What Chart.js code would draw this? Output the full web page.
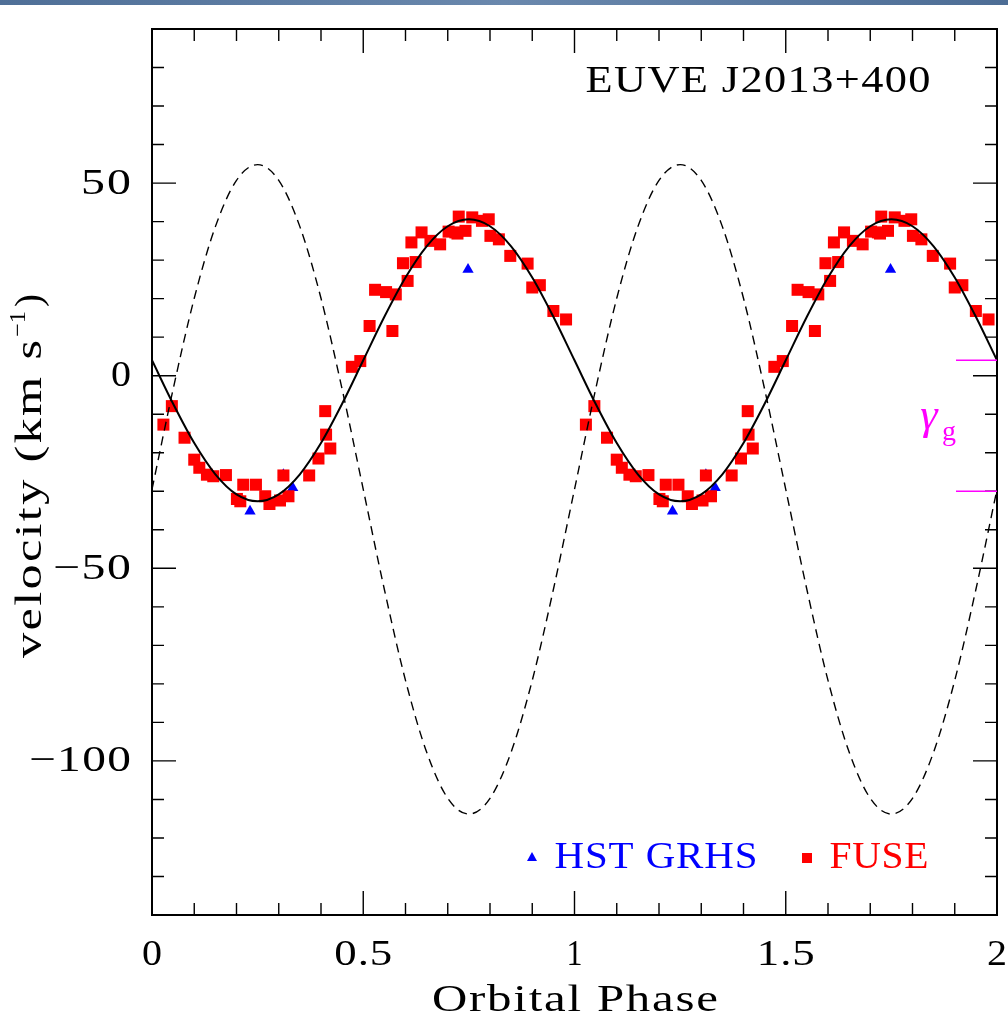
<!DOCTYPE html>
<html>
<head>
<meta charset="utf-8">
<script src="https://cdn.jsdelivr.net/npm/chart.js@4"></script>
<style>
  body { margin: 0; background: #fff; }
  #wrap { width: 1008px; height: 1021px; }
</style>
</head>
<body>
<div id="wrap"><canvas id="rvChart" width="1008" height="1021"></canvas></div>
<script>
// FUSE radial velocities (one orbital cycle, plotted twice)
const fusePhase = [0.027, 0.047, 0.077, 0.100, 0.112, 0.130, 0.145, 0.175, 0.201, 0.209, 0.216, 0.246, 0.268, 0.278,
                   0.303, 0.311, 0.323, 0.372, 0.394, 0.410, 0.412, 0.422, 0.473, 0.493, 0.515, 0.528, 0.554, 0.569,
                   0.577, 0.594, 0.605, 0.614, 0.624, 0.638, 0.659, 0.682, 0.702, 0.718, 0.723, 0.726, 0.742, 0.758,
                   0.781, 0.797, 0.801, 0.821, 0.848, 0.889, 0.900, 0.918, 0.950, 0.980];
const fuseVel = [-12.7, -7.9, -16.1, -21.8, -23.9, -25.7, -26.1, -25.8, -32.0, -32.6, -28.3, -28.3, -31.3, -33.3,
                 -32.4, -25.9, -31.3, -25.9, -21.5, -9.2, -15.3, -18.9, 2.3, 3.8, 12.9, 22.3, 21.7, 11.6,
                 21.1, 29.2, 24.6, 34.6, 29.5, 37.2, 35.0, 34.1, 37.4, 37.2, 36.9, 41.3, 37.6, 41.1,
                 40.2, 40.6, 36.3, 35.4, 31.1, 29.1, 22.9, 23.5, 16.8, 14.6];

// HST GHRS radial velocities
const hstPhase = [0.232, 0.311, 0.333, 0.748];
const hstVel = [-35.2, -25.7, -29.1, 27.6];

// model curves (solid = white dwarf fit, dashed = companion)
const modelPhase = [0, 0.05, 0.10, 0.15, 0.20, 0.25, 0.30, 0.35, 0.40, 0.45, 0.50,
                    0.55, 0.60, 0.65, 0.70, 0.75, 0.80, 0.85, 0.90, 0.95, 1.00];
const solidVel = [4.0, -7.3, -17.5, -25.6, -30.8, -32.6, -30.8, -25.6, -17.5, -7.3, 4.0,
                  15.3, 25.5, 33.6, 38.8, 40.6, 38.8, 33.6, 25.5, 15.3, 4.0];
const dashedVel = [-29.5, -3.5, 20.1, 38.7, 50.7, 54.8, 50.7, 38.7, 20.1, -3.5, -29.5,
                   -55.5, -79.1, -97.7, -109.7, -113.8, -109.7, -97.7, -79.1, -55.5, -29.5];

// systemic velocities marked on the right edge
const gammaLevels = [4, -30];

// axis ticks
const xLabels = ['0', '0.5', '1', '1.5', '2'];
const xMajor = [0, 0.5, 1, 1.5, 2];
const yLabels = ['\u2212100', '\u221250', '0', '50'];
const yMajor = [-100, -50, 0, 50];

const cycles = [0, 1];
const fusePoints = cycles.flatMap(c => fusePhase.map((p, i) => ({ x: p + c, y: fuseVel[i] })));
const hstPoints = cycles.flatMap(c => hstPhase.map((p, i) => ({ x: p + c, y: hstVel[i] })));
function modelPoints(vals) {
    const pts = [];
    cycles.forEach(c => modelPhase.forEach((p, i) => {
        if (c > 0 && i === 0) return;
        pts.push({ x: p + c, y: vals[i] });
    }));
    return pts;
}

// draw text stretched to a given width (the original uses a wide Hershey font)
function drawText(ctx, str, x, y, size, width, opts) {
    opts = opts || {};
    ctx.save();
    ctx.font = (opts.style ? opts.style + ' ' : '') + size + 'px ' + (opts.family || '"Liberation Serif"');
    ctx.fillStyle = opts.color || '#000';
    ctx.textBaseline = opts.baseline || 'middle';
    ctx.textAlign = 'left';
    const w = ctx.measureText(str).width;
    let sx = 1, sp = 0;
    if (width) {
        // part of the extra width goes to letter spacing, the rest to stretching
        const share = opts.spread || 0;
        sp = str.length > 1 ? (width - w) * share / (str.length - 1) : 0;
        sx = (width - sp * (str.length - 1)) / w;
    }
    const total = width || w;
    let x0 = x;
    if ((opts.align || 'center') === 'center') x0 = x - total / 2;
    else if (opts.align === 'right') x0 = x - total;
    ctx.translate(x0, y);
    ctx.scale(sx, 1);
    if (sp) {
        let cx = 0;
        for (const ch of str) {
            ctx.fillText(ch, cx, 0);
            cx += ctx.measureText(ch).width + sp / sx;
        }
    } else {
        ctx.fillText(str, 0, 0);
    }
    ctx.restore();
}

const framePlugin = {
    id: 'frame',
    beforeDraw(chart) {
        const ctx = chart.ctx;
        ctx.save();
        ctx.fillStyle = '#fff';
        ctx.fillRect(0, 0, chart.width, chart.height);
        const g = ctx.createLinearGradient(0, 0, chart.width, 0);
        g.addColorStop(0, '#4f6f97');
        g.addColorStop(0.5, '#6a88ad');
        g.addColorStop(1, '#4d6d95');
        ctx.fillStyle = g;
        ctx.fillRect(0, 0, chart.width, 5);
        ctx.restore();
    },
    afterDraw(chart) {
        const ctx = chart.ctx;
        const a = chart.chartArea;
        const xs = chart.scales.x, ys = chart.scales.y;
        ctx.save();
        ctx.strokeStyle = '#000';

        // ticks, inward on all four sides
        ctx.lineWidth = 1.4;
        ctx.beginPath();
        for (let i = 0; i <= 20; i++) {
            const v = i / 10;
            const px = xs.getPixelForValue(v);
            const len = (i % 5 === 0) ? 24 : 12;
            ctx.moveTo(px, a.bottom); ctx.lineTo(px, a.bottom - len);
            ctx.moveTo(px, a.top); ctx.lineTo(px, a.top + len);
        }
        for (let v = -140; v <= 90; v += 10) {
            const py = ys.getPixelForValue(v);
            const len = (v % 50 === 0) ? 24 : 12;
            ctx.moveTo(a.left, py); ctx.lineTo(a.left + len, py);
            ctx.moveTo(a.right, py); ctx.lineTo(a.right - len, py);
        }
        ctx.stroke();

        // frame
        ctx.lineWidth = 2;
        ctx.strokeRect(a.left, a.top, a.right - a.left, a.bottom - a.top);

        // tick labels
        const xw = [20, 58, 16, 58, 20];
        xMajor.forEach((v, i) => drawText(ctx, xLabels[i], xs.getPixelForValue(v), 956, 36, xw[i], { spread: 0.15 }));
        const yw = [102, 78, 20, 50];
        yMajor.forEach((v, i) => drawText(ctx, yLabels[i], 131, ys.getPixelForValue(v) + 1, 36, yw[i],
                                          { align: 'right', spread: 0.15 }));

        // axis titles
        drawText(ctx, 'Orbital Phase', 575, 1001, 37, 286, { spread: 0.25 });

        ctx.save();
        ctx.translate(31, 470);
        ctx.rotate(-Math.PI / 2);
        drawText(ctx, 'velocity (km s', -188, 0, 38, 318, { align: 'left', spread: 0.3 });
        drawText(ctx, '\u22121', 133, -12, 23, 26, { align: 'left' });
        drawText(ctx, ')', 163, 0, 38, 13, { align: 'left' });
        ctx.restore();

        // object name
        drawText(ctx, 'EUVE J2013+400', 758, 82, 37, 345, { spread: 0.25 });

        // legend
        ctx.fillStyle = '#0000ff';
        ctx.beginPath();
        ctx.moveTo(532, 852); ctx.lineTo(537, 861); ctx.lineTo(527, 861); ctx.closePath();
        ctx.fill();
        drawText(ctx, 'HST GRHS', 656, 858, 37, 203, { color: '#0000ff', spread: 0.25 });
        ctx.fillStyle = '#ff0000';
        ctx.fillRect(802, 853, 10, 10);
        drawText(ctx, 'FUSE', 879, 858, 37, 99, { color: '#ff0000', spread: 0.25 });

        // gamma velocities
        ctx.strokeStyle = '#ff00ff';
        ctx.lineWidth = 1.5;
        ctx.beginPath();
        gammaLevels.forEach(v => {
            const py = ys.getPixelForValue(v);
            ctx.moveTo(956, py); ctx.lineTo(a.right, py);
        });
        ctx.stroke();
        drawText(ctx, '\u03b3', 929, 429, 44, null,
                 { color: '#ff00ff', style: 'italic', baseline: 'alphabetic' });
        drawText(ctx, 'g', 949, 440, 28, null, { color: '#ff00ff', baseline: 'alphabetic' });
        ctx.restore();
    }
};

const ctx = document.getElementById('rvChart').getContext('2d');
const rvChart = new Chart(ctx, {
    type: 'scatter',
    data: {
        datasets: [
            {
                label: 'model',
                type: 'line',
                data: modelPoints(solidVel),
                borderColor: '#000',
                borderWidth: 2,
                pointRadius: 0,
                cubicInterpolationMode: 'monotone',
                fill: false,
                order: 0
            },
            {
                label: 'companion',
                type: 'line',
                data: modelPoints(dashedVel),
                borderColor: '#000',
                borderWidth: 1.4,
                borderDash: [9, 6],
                pointRadius: 0,
                cubicInterpolationMode: 'monotone',
                fill: false,
                order: 0
            },
            {
                label: 'FUSE',
                data: fusePoints,
                pointStyle: 'rect',
                pointRadius: 8.5,
                backgroundColor: '#ff0000',
                borderWidth: 0,
                order: 1
            },
            {
                label: 'HST GRHS',
                data: hstPoints,
                pointStyle: 'triangle',
                pointRadius: 6.5,
                backgroundColor: '#0000ff',
                borderWidth: 0,
                order: 1
            }
        ]
    },
    options: {
        responsive: false,
        animation: false,
        layout: { padding: { left: 152, right: 11, top: 29, bottom: 106 } },
        scales: {
            x: { type: 'linear', min: 0, max: 2, display: false },
            y: { type: 'linear', min: -140, max: 90, display: false }
        },
        plugins: {
            legend: { display: false },
            tooltip: { enabled: false }
        }
    },
    plugins: [framePlugin]
});
</script>
</body>
</html>
